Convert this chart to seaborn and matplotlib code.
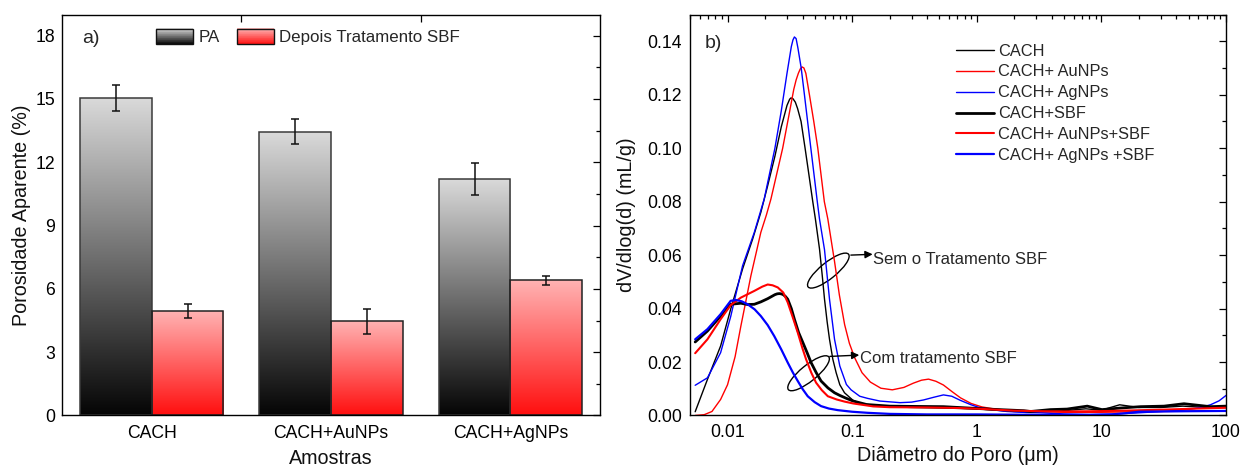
import numpy as np
import pandas as pd
import matplotlib
matplotlib.use("Agg")
import matplotlib.pyplot as plt
import seaborn as sns
from matplotlib.colors import LinearSegmentedColormap, to_rgb
from matplotlib.patches import Rectangle, Ellipse, Patch
from matplotlib.legend_handler import HandlerBase
from matplotlib.ticker import MultipleLocator, FixedLocator, LogLocator, NullFormatter
from matplotlib.transforms import ScaledTranslation

# ---------------- data: panel a ----------------
amostras = ["CACH", "CACH+AuNPs", "CACH+AgNPs"]
grupos = ["PA", "Depois Tratamento SBF"]
pa_vals = [15.05, 13.45, 11.2]
pa_err = [0.63, 0.58, 0.75]
sbf_vals = [4.97, 4.47, 6.4]
sbf_err = [0.33, 0.59, 0.21]

# ---------------- data: panel b ----------------
x_cach = [0.0055, 0.0069, 0.0088, 0.0106, 0.0132, 0.0159, 0.0185, 0.021, 0.024, 0.027, 0.030,
          0.0315, 0.0323, 0.0335, 0.035, 0.0365, 0.0389, 0.0419, 0.045, 0.0483, 0.0507, 0.0547,
          0.0575, 0.060, 0.063, 0.0658, 0.070, 0.0744, 0.0796, 0.0868, 0.102, 0.118, 0.148, 0.2,
          0.3, 0.5, 1.0, 2.0, 3.0, 5.0, 7.5, 10, 14, 20, 30, 45, 70, 100]
y_cach = [0.0014, 0.0135, 0.026, 0.0398, 0.0548, 0.066, 0.076, 0.086, 0.097, 0.108, 0.116,
          0.1183, 0.1188, 0.1185, 0.1172, 0.1148, 0.110, 0.100, 0.090, 0.080, 0.0735, 0.0623,
          0.0525, 0.0435, 0.035, 0.0285, 0.021, 0.016, 0.0115, 0.0085, 0.0056, 0.0045, 0.0038,
          0.0033, 0.0030, 0.0028, 0.0025, 0.0015, 0.0012, 0.0018, 0.0025, 0.0020, 0.0040, 0.0030,
          0.0030, 0.0035, 0.0030, 0.0030]

x_au = [0.0055, 0.0065, 0.0075, 0.0088, 0.0100, 0.0115, 0.0128, 0.0142, 0.0154, 0.017, 0.0185,
        0.0205, 0.0223, 0.025, 0.0277, 0.031, 0.034, 0.0355, 0.037, 0.0383, 0.0396, 0.041,
        0.0425, 0.0454, 0.0492, 0.053, 0.0598, 0.0638, 0.072, 0.079, 0.087, 0.095, 0.105, 0.12,
        0.14, 0.17, 0.21, 0.26, 0.31, 0.36, 0.41, 0.47, 0.54, 0.63, 0.74, 0.9, 1.1, 1.4, 1.8,
        2.5, 3.5, 5, 7, 10, 14, 20, 30, 45, 70, 100]
y_au = [0.0, 0.0003, 0.0015, 0.006, 0.0115, 0.022, 0.0335, 0.044, 0.0523, 0.061, 0.0685,
        0.075, 0.081, 0.091, 0.100, 0.112, 0.122, 0.1255, 0.128, 0.1296, 0.1304, 0.130,
        0.128, 0.120, 0.110, 0.100, 0.080, 0.0735, 0.058, 0.045, 0.034, 0.027, 0.0215, 0.016,
        0.0125, 0.0102, 0.0096, 0.0105, 0.0121, 0.0132, 0.0136, 0.0128, 0.0114, 0.0090, 0.0066,
        0.0045, 0.0032, 0.0024, 0.0019, 0.0016, 0.0014, 0.0012, 0.0012, 0.0012, 0.0013, 0.0015,
        0.0015, 0.0016, 0.0017, 0.0018]

x_ag = [0.0055, 0.0069, 0.0088, 0.0106, 0.0132, 0.0164, 0.0197, 0.024, 0.027, 0.030, 0.0325,
        0.0335, 0.0344, 0.0355, 0.0367, 0.039, 0.0414, 0.0439, 0.0466, 0.0525, 0.0547, 0.060,
        0.0658, 0.0722, 0.0796, 0.0899, 0.098, 0.115, 0.133, 0.167, 0.242, 0.30, 0.373, 0.45,
        0.54, 0.63, 0.735, 0.9, 1.06, 1.4, 1.745, 2.5, 3.24, 5, 8, 12, 20, 30, 45, 60, 75, 88, 100]
y_ag = [0.0113, 0.0141, 0.0235, 0.037, 0.056, 0.0685, 0.081, 0.100, 0.114, 0.128, 0.138,
        0.1405, 0.1416, 0.141, 0.1375, 0.130, 0.120, 0.110, 0.100, 0.080, 0.0735, 0.062,
        0.0435, 0.0285, 0.0185, 0.0116, 0.0096, 0.0072, 0.0064, 0.0054, 0.0048, 0.0050, 0.0058,
        0.0068, 0.0077, 0.0072, 0.0057, 0.0040, 0.0029, 0.0020, 0.0015, 0.0011, 0.0010, 0.0006,
        0.0004, 0.0005, 0.0010, 0.0015, 0.0020, 0.0028, 0.0040, 0.0055, 0.0075]

x_sbf = [0.0055, 0.0069, 0.0088, 0.0106, 0.0128, 0.0145, 0.0164, 0.0185, 0.021, 0.024, 0.025,
         0.026, 0.027, 0.028, 0.0292, 0.0304, 0.0325, 0.0344, 0.0372, 0.0402, 0.0435, 0.0468,
         0.0515, 0.0563, 0.064, 0.0722, 0.0796, 0.090, 0.102, 0.1306, 0.20, 0.30, 0.54, 0.94,
         1.5, 2.38, 2.7, 3.9, 5.3, 7.7, 10.1, 14.3, 20.6, 31.8, 46, 75, 100]
y_sbf = [0.0275, 0.0316, 0.0372, 0.0416, 0.0420, 0.0415, 0.0416, 0.0425, 0.0437, 0.0452, 0.0455,
         0.0456, 0.0455, 0.0452, 0.0445, 0.0435, 0.0400, 0.0360, 0.0310, 0.0273, 0.0235, 0.0198,
         0.0160, 0.0129, 0.0103, 0.0085, 0.0075, 0.0064, 0.0054, 0.0041, 0.0035, 0.0034, 0.0033,
         0.0027, 0.0022, 0.0018, 0.0015, 0.0022, 0.0024, 0.0035, 0.0022, 0.0028, 0.0033, 0.0035,
         0.0044, 0.0033, 0.0035]

x_au_sbf = [0.0055, 0.0069, 0.0088, 0.0106, 0.0128, 0.0164, 0.019, 0.021, 0.023, 0.0253, 0.028,
            0.0304, 0.0335, 0.0366, 0.040, 0.0427, 0.047, 0.0513, 0.057, 0.0638, 0.075, 0.0868,
            0.102, 0.1476, 0.2, 0.4, 0.7, 1.06, 2.0, 3.24, 5, 9, 15, 31.8, 60, 100]
y_au_sbf = [0.0233, 0.0285, 0.036, 0.0413, 0.0441, 0.0466, 0.0482, 0.0490, 0.0487, 0.0479, 0.0460,
            0.0423, 0.0365, 0.0310, 0.0250, 0.0210, 0.0160, 0.0123, 0.0095, 0.0072, 0.0060, 0.0052,
            0.0045, 0.0034, 0.0031, 0.0030, 0.0028, 0.0025, 0.0018, 0.0016, 0.0015, 0.0016, 0.0018,
            0.0022, 0.0026, 0.0029]

x_ag_sbf = [0.0055, 0.0069, 0.0088, 0.0106, 0.0117, 0.013, 0.0145, 0.0165, 0.0185, 0.021, 0.0237,
            0.027, 0.0304, 0.0335, 0.0366, 0.040, 0.044, 0.050, 0.0563, 0.065, 0.0767, 0.1, 0.133,
            0.2, 0.4, 1.0, 2.0, 3.0, 5.0, 8.0, 12, 16, 20, 30, 50, 100]
y_ag_sbf = [0.0285, 0.0323, 0.0379, 0.0429, 0.0432, 0.0427, 0.0416, 0.0397, 0.0372, 0.0338, 0.0297,
            0.0247, 0.0198, 0.0160, 0.0129, 0.0099, 0.0072, 0.0050, 0.0035, 0.0026, 0.0020, 0.0014,
            0.0010, 0.0006, 0.0004, 0.0004, 0.0003, 0.0002, 0.0002, 0.0002, 0.0004, 0.0009, 0.0014,
            0.0015, 0.0016, 0.0017]

series = [
    ("CACH", x_cach, y_cach, "#000000", 1.0),
    ("CACH+ AuNPs", x_au, y_au, "#ff0000", 1.0),
    ("CACH+ AgNPs", x_ag, y_ag, "#0000ff", 1.0),
    ("CACH+SBF", x_sbf, y_sbf, "#000000", 2.0),
    ("CACH+ AuNPs+SBF", x_au_sbf, y_au_sbf, "#ff0000", 1.5),
    ("CACH+ AgNPs +SBF", x_ag_sbf, y_ag_sbf, "#0000ff", 1.6),
]

gray_top, gray_bot = "#dadada", "#050505"
red_top, red_bot = "#ffb4b4", "#ff0f0f"

# ---------------- style ----------------
sns.set_theme(style="white")
plt.rcParams["font.family"] = ["Liberation Sans", "DejaVu Sans"]
plt.rcParams["axes.linewidth"] = 1.0
plt.rcParams["axes.edgecolor"] = "#000000"
plt.rcParams["lines.solid_joinstyle"] = "round"

fig = plt.figure(figsize=(12.48, 4.68), dpi=100)
axa = fig.add_axes([0.0497, 0.1122, 0.4311, 0.8568])
axb = fig.add_axes([0.5529, 0.1122, 0.4295, 0.8568])

TICK_FS = 12.7
LAB_FS = 14.2

# ---------------- panel a ----------------
df = pd.DataFrame({
    "Amostra": amostras * 2,
    "valor": pa_vals + sbf_vals,
    "grupo": [grupos[0]] * 3 + [grupos[1]] * 3,
})
sns.barplot(data=df, x="Amostra", y="valor", hue="grupo", order=amostras, hue_order=grupos,
            palette=["#808080", "#ff7070"], width=0.8, errorbar=None, legend=False,
            saturation=1, ax=axa)

cm_gray = LinearSegmentedColormap.from_list("g", [gray_bot, gray_top])
cm_red = LinearSegmentedColormap.from_list("r", [red_bot, red_top])
grad = np.linspace(0, 1, 256).reshape(-1, 1)

bars = [p for p in axa.patches if isinstance(p, Rectangle) and p.get_height() > 0]
all_vals = pa_vals + sbf_vals
all_err = pa_err + sbf_err
for p in bars:
    h = p.get_height()
    idx = int(np.argmin([abs(h - v) for v in all_vals]))
    cmap = cm_gray if idx < 3 else cm_red
    x0, w = p.get_x(), p.get_width()
    im = axa.imshow(grad, extent=[x0, x0 + w, 0, h], origin="lower", aspect="auto",
                    cmap=cmap, interpolation="bilinear", zorder=1.5)
    im.set_clip_path(p)
    p.set_facecolor("none")
    p.set_edgecolor("#3a3a3a" if idx < 3 else "#222222")
    p.set_linewidth(1.1)
    p.set_zorder(2)
    axa.errorbar(x0 + w / 2, h, yerr=all_err[idx], fmt="none", ecolor="#111111",
                 elinewidth=1.1, capsize=3.0, capthick=1.1, zorder=3)

axa.set_xlim(-0.5, 2.5)
axa.set_ylim(0, 19)
axa.yaxis.set_major_locator(MultipleLocator(3))
axa.yaxis.set_minor_locator(MultipleLocator(1.5))
axa.xaxis.set_minor_locator(FixedLocator([0.5, 1.5]))
axa.tick_params(axis="both", which="both", direction="in", top=True, right=True,
                labelsize=TICK_FS, colors="#000000", width=0.9)
axa.tick_params(axis="y", which="major", length=5, pad=5)
axa.tick_params(axis="y", which="minor", length=2.8)
axa.tick_params(axis="x", which="major", length=0, pad=7)
axa.tick_params(axis="x", which="minor", length=5)
axa.set_xlabel("Amostras", fontsize=LAB_FS, labelpad=5, color="#111111")
axa.set_ylabel("Porosidade Aparente (%)", fontsize=LAB_FS, labelpad=3, color="#111111")
axa.text(0.037, 0.939, "a)", transform=axa.transAxes, fontsize=14, va="center", ha="left")


class GradHandler(HandlerBase):
    def __init__(self, ctop, cbot):
        super().__init__()
        self.ctop = np.array(to_rgb(ctop))
        self.cbot = np.array(to_rgb(cbot))

    def create_artists(self, legend, orig_handle, xdescent, ydescent, width, height,
                       fontsize, trans):
        n = 24
        arts = []
        for i in range(n):
            f = i / (n - 1)
            col = self.cbot * (1 - f) + self.ctop * f
            arts.append(Rectangle((-xdescent, -ydescent + height * i / n), width, height / n + 0.3,
                                  facecolor=col, edgecolor="none", transform=trans))
        arts.append(Rectangle((-xdescent, -ydescent), width, height, fill=False,
                              edgecolor="#111111", lw=1.0, transform=trans))
        return arts


h_pa = Patch(label=grupos[0])
h_sbf = Patch(label=grupos[1])
axa.legend(handles=[h_pa, h_sbf], labels=grupos, ncol=2, loc="upper left",
           bbox_to_anchor=(0.175, 0.965), borderaxespad=0, borderpad=0, frameon=False,
           fontsize=12.2, handlelength=2.2, handleheight=1.05, handletextpad=0.3,
           columnspacing=1.0,
           handler_map={h_pa: GradHandler(gray_top, gray_bot), h_sbf: GradHandler(red_top, red_bot)})

# ---------------- panel b ----------------
for name, xs, ys, col, lw in series:
    sns.lineplot(x=xs, y=ys, ax=axb, color=col, lw=lw, label=name, sort=False,
                 estimator=None, legend=False)

axb.set_xscale("log")
axb.set_xlim(0.005, 100)
axb.set_ylim(0, 0.15)
axb.yaxis.set_major_locator(MultipleLocator(0.02))
axb.yaxis.set_minor_locator(MultipleLocator(0.01))
axb.yaxis.set_major_formatter(matplotlib.ticker.FormatStrFormatter("%.2f"))
axb.xaxis.set_major_locator(LogLocator(base=10, numticks=20))
axb.xaxis.set_minor_locator(LogLocator(base=10, subs=np.arange(2, 10), numticks=20))
axb.xaxis.set_minor_formatter(NullFormatter())
axb.xaxis.set_major_formatter(matplotlib.ticker.FuncFormatter(lambda v, p: f"{v:g}"))
axb.tick_params(axis="both", which="both", direction="in", top=True, right=True,
                labelsize=TICK_FS, colors="#000000", width=0.9)
axb.tick_params(axis="both", which="major", length=5, pad=6)
axb.tick_params(axis="both", which="minor", length=2.8)
axb.set_xlabel("Diâmetro do Poro (μm)", fontsize=LAB_FS, labelpad=4, color="#111111")
axb.set_ylabel("dV/dlog(d) (mL/g)", fontsize=LAB_FS, labelpad=8, color="#111111")
axb.text(0.028, 0.928, "b)", transform=axb.transAxes, fontsize=14, va="center", ha="left")

leg = axb.legend(loc="upper left", bbox_to_anchor=(0.496, 0.9275), borderaxespad=0, borderpad=0,
                 frameon=False, fontsize=11.8, handlelength=2.3, handletextpad=0.3,
                 labelspacing=0.36)

# annotations (ellipses + arrows + text)
def ellipse_at(ax, xc, yc):
    tr = fig.dpi_scale_trans + ScaledTranslation(xc, yc, ax.transData)
    e = Ellipse((0, 0), width=0.52, height=0.16, angle=39, fill=False, edgecolor="#000000",
                lw=1.0, transform=tr)
    ax.add_patch(e)

ellipse_at(axb, 0.0644, 0.0542)
ellipse_at(axb, 0.0447, 0.0158)
axb.annotate("", xy=(0.146, 0.0603), xytext=(0.0976, 0.0600),
             arrowprops=dict(arrowstyle="-|>", color="#000000", lw=1.0, mutation_scale=11,
                             shrinkA=0, shrinkB=0))
axb.annotate("", xy=(0.1140, 0.0226), xytext=(0.0662, 0.0221),
             arrowprops=dict(arrowstyle="-|>", color="#000000", lw=1.0, mutation_scale=11,
                             shrinkA=0, shrinkB=0))
axb.text(0.1476, 0.0582, "Sem o Tratamento SBF", fontsize=12, va="center", ha="left")
axb.text(0.1153, 0.0212, "Com tratamento SBF", fontsize=12, va="center", ha="left")

fig.savefig("out.png", dpi=100)
